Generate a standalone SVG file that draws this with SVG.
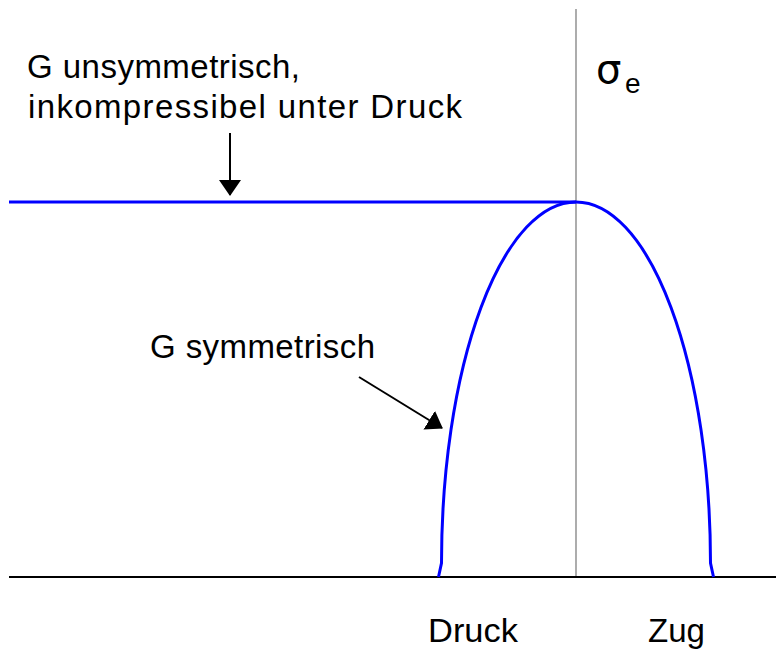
<svg xmlns="http://www.w3.org/2000/svg" width="776" height="650" viewBox="0 0 776 650">
<defs>
<style>
.t{font-family:"Liberation Sans",Arial,sans-serif;font-size:33px;fill:#000}
.curve{fill:none;stroke:#0000ff;stroke-width:3}
.ax{stroke:#000;stroke-width:2;fill:none}
.arr{stroke:#000;stroke-width:2;fill:none;marker-end:url(#ah)}
</style>
<marker id="ah" markerUnits="userSpaceOnUse" viewBox="0 0 16 22" markerWidth="16" markerHeight="22" refX="15" refY="11" orient="auto">
<path d="M0,0 L16,11 L0,22 Z" fill="#000"/>
</marker>
</defs>
<rect width="776" height="650" fill="#fff"/>
<g id="axes">
<line x1="576" y1="9" x2="576" y2="577" stroke="#808080" stroke-width="1.3"/>
<line class="ax" x1="9" y1="577" x2="776" y2="577"/>
</g>
<g id="curves">
<line class="curve" x1="9" y1="202" x2="576" y2="202"/>
<path class="curve" d="M438.5,577 L441.5,563 A134.5,361 0 0 1 710.5,563 L713.5,577"/>
</g>
<g id="connectors">
<line class="arr" x1="230" y1="133" x2="230" y2="195"/>
<line class="arr" x1="359" y1="377" x2="442" y2="428"/>
</g>
<g id="label-unsym">
<text class="t" x="27" y="78" textLength="273" lengthAdjust="spacing">G unsymmetrisch,</text>
<text class="t" x="28" y="118" textLength="434" lengthAdjust="spacing">inkompressibel unter Druck</text>
</g>
<g id="label-sym">
<text class="t" x="150" y="358" textLength="225" lengthAdjust="spacing">G symmetrisch</text>
</g>
<g id="label-sigma">
<text x="596" y="83" style="font-family:'DejaVu Sans',sans-serif;font-size:40px;fill:#000">σ</text>
<text class="t" x="625" y="93" style="font-size:28px">e</text>
</g>
<g id="label-druck"><text class="t" x="428" y="642" textLength="90" lengthAdjust="spacingAndGlyphs">Druck</text></g>
<g id="label-zug"><text class="t" x="648" y="642" textLength="57" lengthAdjust="spacingAndGlyphs">Zug</text></g>
</svg>
